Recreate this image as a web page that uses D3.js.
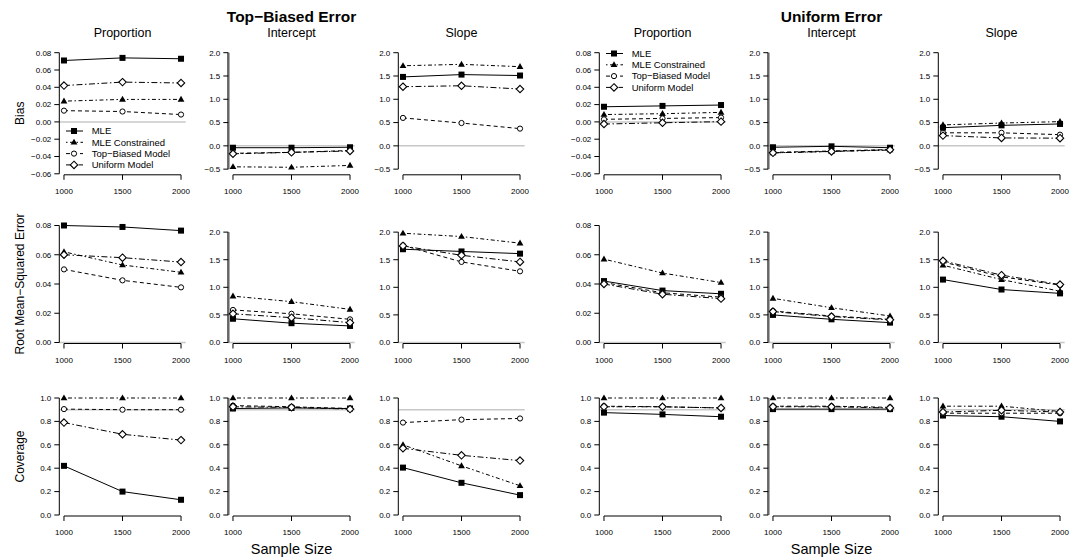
<!DOCTYPE html>
<html>
<head>
<meta charset="utf-8">
<script src="https://cdn.jsdelivr.net/npm/d3@7"></script>
<style>
  body { margin: 0; background: #fff; }
  text { font-family: "Liberation Sans", Arial, Helvetica, sans-serif; fill: #000; }
</style>
</head>
<body>
<svg id="chart" width="1074" height="560"></svg>
<script>
const sampleSizes = [1000, 1500, 2000];
const seriesNames = ["MLE", "MLE Constrained", "Top\u2212Biased Model", "Uniform Model"];
const errorTypes = ["Top\u2212Biased Error", "Uniform Error"];
const parameters = ["Proportion", "Intercept", "Slope"];
const metrics = ["Bias", "Root Mean\u2212Squared Error", "Coverage"];

// values: [parameter][series][sample size]
const topBiasedBias = [
  [[0.071, 0.074, 0.073], [0.024, 0.026, 0.026], [0.013, 0.012, 0.0085], [0.042, 0.046, 0.045]],
  [[-0.04, -0.04, -0.03], [-0.45, -0.46, -0.42], [-0.16, -0.14, -0.10], [-0.17, -0.14, -0.11]],
  [[1.48, 1.53, 1.51], [1.72, 1.75, 1.70], [0.60, 0.49, 0.37], [1.27, 1.29, 1.22]]
];
const topBiasedRmse = [
  [[0.080, 0.079, 0.0765], [0.062, 0.053, 0.048], [0.050, 0.0425, 0.0377], [0.060, 0.058, 0.055]],
  [[0.43, 0.35, 0.30], [0.84, 0.74, 0.60], [0.59, 0.52, 0.42], [0.52, 0.45, 0.36]],
  [[1.69, 1.65, 1.61], [1.98, 1.92, 1.80], [1.76, 1.46, 1.29], [1.75, 1.58, 1.46]]
];
const topBiasedCoverage = [
  [[0.42, 0.20, 0.13], [1, 1, 1], [0.905, 0.90, 0.90], [0.79, 0.69, 0.64]],
  [[0.91, 0.915, 0.91], [1, 1, 1], [0.935, 0.925, 0.91], [0.925, 0.92, 0.905]],
  [[0.405, 0.275, 0.17], [0.60, 0.42, 0.25], [0.79, 0.815, 0.825], [0.57, 0.51, 0.465]]
];
const uniformBias = [
  [[0.0175, 0.0185, 0.0195], [0.0085, 0.0095, 0.011], [0.003, 0.004, 0.005], [-0.0025, -0.001, 0.0003]],
  [[-0.03, -0.01, -0.04], [-0.15, -0.12, -0.09], [-0.14, -0.11, -0.08], [-0.15, -0.12, -0.085]],
  [[0.39, 0.44, 0.47], [0.45, 0.49, 0.52], [0.28, 0.28, 0.24], [0.22, 0.17, 0.165]]
];
const uniformRmse = [
  [[0.042, 0.0355, 0.0333], [0.057, 0.0475, 0.041], [0.041, 0.034, 0.031], [0.040, 0.033, 0.030]],
  [[0.50, 0.42, 0.36], [0.80, 0.63, 0.48], [0.57, 0.48, 0.42], [0.56, 0.47, 0.41]],
  [[1.14, 0.96, 0.89], [1.40, 1.14, 0.93], [1.46, 1.19, 1.04], [1.48, 1.22, 1.05]]
];
const uniformCoverage = [
  [[0.875, 0.86, 0.84], [1, 1, 1], [0.93, 0.925, 0.915], [0.925, 0.925, 0.915]],
  [[0.905, 0.905, 0.905], [1, 1, 1], [0.93, 0.93, 0.92], [0.925, 0.925, 0.915]],
  [[0.85, 0.84, 0.80], [0.93, 0.93, 0.885], [0.87, 0.87, 0.87], [0.88, 0.895, 0.88]]
];

// axis limits and ticks
const biasPropLim = [-0.06, 0.08];
const biasParamLim = [-0.6, 2.0];
const rmsePropLim = [0, 0.08];
const rmseParamLim = [0, 2.12];
const coverageLim = [0, 1];
const biasPropTicks = [-0.06, -0.04, -0.02, 0, 0.02, 0.04, 0.06, 0.08];
const biasParamTicks = [-0.5, 0, 0.5, 1, 1.5, 2];
const rmsePropTicks = [0, 0.02, 0.04, 0.06, 0.08];
const rmseParamTicks = [0, 0.5, 1, 1.5, 2];
const coverageTicks = [0, 0.2, 0.4, 0.6, 0.8, 1];
const referenceValues = [0, 0, 0.9];

const svg = d3.select("#chart");

// layout
const colLefts = [59.3, 228.3, 398.3],
    groupShift = 540,
    plotWidth = 126.4,
    rowBottoms = [173.8, 342.5, 515],
    rowTops = [52.7, 225.5, 398];

const panelData = [
    [topBiasedBias, topBiasedRmse, topBiasedCoverage],
    [uniformBias, uniformRmse, uniformCoverage]
];
const limits = [
    [biasPropLim, biasParamLim, biasParamLim],
    [rmsePropLim, rmseParamLim, rmseParamLim],
    [coverageLim, coverageLim, coverageLim]
];
const tickSets = [
    [biasPropTicks, biasParamTicks, biasParamTicks],
    [rmsePropTicks, rmseParamTicks, rmseParamTicks],
    [coverageTicks, coverageTicks, coverageTicks]
];

const dashes = [null, "1.5,2.5,4,2.5", "4,3", "6,2.5,1.5,2.5"];

function drawMarker(g, k, x, y) {
    if (k === 0) {
        g.append("rect").attr("x", x - 3).attr("y", y - 3)
            .attr("width", 6).attr("height", 6).attr("fill", "#000");
    } else if (k === 1) {
        g.append("path")
            .attr("d", `M${x},${y - 3.6}L${x + 3.4},${y + 2.3}L${x - 3.4},${y + 2.3}Z`)
            .attr("fill", "#000");
    } else if (k === 2) {
        g.append("circle").attr("cx", x).attr("cy", y).attr("r", 2.6)
            .attr("fill", "#fff").attr("stroke", "#000").attr("stroke-width", 1);
    } else {
        g.append("path")
            .attr("d", `M${x},${y - 3.7}L${x + 3.7},${y}L${x},${y + 3.7}L${x - 3.7},${y}Z`)
            .attr("fill", "#fff").attr("stroke", "#000").attr("stroke-width", 1.1);
    }
}

errorTypes.forEach(function(errName, gi) {
    metrics.forEach(function(metric, r) {
        parameters.forEach(function(param, c) {
            let left = colLefts[c] + gi * groupShift;
            let x = d3.scaleLinear().domain([960, 2040]).range([left, left + plotWidth]);
            let y = d3.scaleLinear().domain(limits[r][c]).range([rowBottoms[r], rowTops[r]]);
            let fmt = c === 0 && r < 2 ? d3.format(".2f") : d3.format(".1f");
            let g = svg.append("g");

            // reference line
            g.append("line")
                .attr("x1", left).attr("x2", left + plotWidth)
                .attr("y1", y(referenceValues[r])).attr("y2", y(referenceValues[r]))
                .attr("stroke", "#c8c8c8").attr("stroke-width", 1.5);

            // y axis
            let yTicks = tickSets[r][c];
            g.append("line")
                .attr("x1", left).attr("x2", left)
                .attr("y1", y(yTicks[0])).attr("y2", y(yTicks[yTicks.length - 1]))
                .attr("stroke", c === 1 ? "#666" : "#000")
                .attr("stroke-width", c === 1 ? 2.5 : 1);
            yTicks.forEach(function(t) {
                g.append("line").attr("x1", left - 5).attr("x2", left)
                    .attr("y1", y(t)).attr("y2", y(t)).attr("stroke", "#000");
                g.append("text").attr("x", left - 8).attr("y", y(t))
                    .attr("dy", "0.35em").attr("text-anchor", "end")
                    .attr("font-size", 8).text(fmt(t));
            });

            // x axis
            let axisY = rowBottoms[r] + 1;
            g.append("line")
                .attr("x1", x(sampleSizes[0])).attr("x2", x(sampleSizes[sampleSizes.length - 1]))
                .attr("y1", axisY).attr("y2", axisY).attr("stroke", "#000");
            sampleSizes.forEach(function(s) {
                g.append("line").attr("x1", x(s)).attr("x2", x(s))
                    .attr("y1", axisY).attr("y2", axisY + 5).attr("stroke", "#000");
                g.append("text").attr("x", x(s)).attr("y", axisY + 19)
                    .attr("text-anchor", "middle").attr("font-size", 8).text(s);
            });

            // series
            let values = panelData[gi][r][c];
            let line = d3.line().x(function(d, i) { return x(sampleSizes[i]); })
                .y(function(d) { return y(d); });
            values.forEach(function(vals, k) {
                g.append("path").attr("d", line(vals))
                    .attr("fill", "none").attr("stroke", "#000").attr("stroke-width", 1)
                    .attr("stroke-dasharray", dashes[k]);
            });
            values.forEach(function(vals, k) {
                vals.forEach(function(v, i) { drawMarker(g, k, x(sampleSizes[i]), y(v)); });
            });

            // column title, top row only
            if (r === 0) {
                g.append("text").attr("x", left + plotWidth / 2).attr("y", 37)
                    .attr("text-anchor", "middle").attr("font-size", 12.5).text(param);
            }

            // legend
            if (r === 0 && c === 0) {
                let legTop = gi === 0 ? 131 : 53.5;
                seriesNames.forEach(function(name, k) {
                    let ly = legTop + k * 11.3;
                    g.append("line").attr("x1", left + 6.7).attr("x2", left + 23.7)
                        .attr("y1", ly).attr("y2", ly).attr("stroke", "#000")
                        .attr("stroke-dasharray", dashes[k]);
                    drawMarker(g, k, left + 14.7, ly);
                    g.append("text").attr("x", left + 32.4).attr("y", ly)
                        .attr("dy", "0.35em").attr("font-size", 9.5).text(name);
                });
            }

            if (gi === 0 && c === 0) {
                let cy = (rowTops[r] + rowBottoms[r]) / 2;
                svg.append("text")
                    .attr("transform", "translate(20," + cy + ") rotate(-90)")
                    .attr("text-anchor", "middle").attr("dy", "0.35em")
                    .attr("font-size", 12).text(metric);
            }
        });
    });

    let mid = colLefts[1] + gi * groupShift + plotWidth / 2;
    svg.append("text").attr("x", mid).attr("y", 21.5)
        .attr("text-anchor", "middle").attr("font-size", 15.5)
        .attr("font-weight", "bold").text(errName);
    svg.append("text").attr("x", mid).attr("y", 554)
        .attr("text-anchor", "middle").attr("font-size", 14.5).text("Sample Size");
});
</script>
</body>
</html>
